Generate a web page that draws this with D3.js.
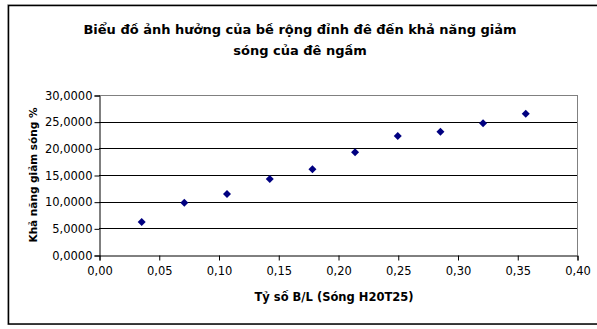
<!DOCTYPE html>
<html><head><meta charset="utf-8">
<script src="https://cdn.jsdelivr.net/npm/d3@7"></script>
<style>body{margin:0;background:#fff}svg{display:block}text{font-family:"DejaVu Sans",sans-serif}</style>
</head><body>
<svg id="c" width="597" height="329"></svg>
<script>
const xValues = [0.0357, 0.0714, 0.1071, 0.1429, 0.1786, 0.2143, 0.25, 0.2857, 0.3214, 0.3571];
const yValues = [6.19, 9.81, 11.44, 14.25, 16.06, 19.25, 22.3, 23.1, 24.7, 26.5];
const xTicks = [0, 0.05, 0.10, 0.15, 0.20, 0.25, 0.30, 0.35, 0.40];
const yTicks = [0, 5, 10, 15, 20, 25, 30];
const titleLines = ["Biểu đồ ảnh hưởng của bề rộng đỉnh đê đến khả năng giảm", "sóng của đê ngầm"];
const xTitle = "Tỷ số B/L (Sóng H20T25)";
const yTitle = "Khả năng giảm sóng %";
const FONT = "'DejaVu Sans',sans-serif";

const svg = d3.select("#c");
// outer frame
svg.append("rect").attr("x",7.5).attr("y",4.5).attr("width",600).attr("height",320).attr("fill","none").attr("stroke","#ccc");
svg.append("rect").attr("x",8.5).attr("y",5.5).attr("width",600).attr("height",318.5).attr("fill","#fff").attr("stroke","#000").attr("stroke-width",1.5);

const L=99, R=577, T=95, B=255;
const x=d3.scaleLinear().domain([0,0.4]).range([L,R]);
const y=d3.scaleLinear().domain([0,30]).range([B,T]);
const fmt = d=>d3.format(".4f")(d).replace(".",",");
const fmtx = d=>d3.format(".2f")(d).replace(".",",");

// gridlines
svg.append("g").selectAll("line").data(yTicks.filter(d=>d>0)).join("line")
  .attr("x1",L).attr("x2",R).attr("y1",d=>Math.round(y(d))+0.5).attr("y2",d=>Math.round(y(d))+0.5)
  .attr("stroke",d=>d===30?"#808080":"#000").attr("stroke-width",1);
// right border
svg.append("line").attr("x1",R+0.5).attr("x2",R+0.5).attr("y1",T).attr("y2",B).attr("stroke","#808080");

const ya = svg.append("g").attr("transform",`translate(${L+0.5},0.5)`).call(d3.axisLeft(y).tickValues(yTicks).tickFormat(fmt).tickSize(5).tickPadding(2));
const xa = svg.append("g").attr("transform",`translate(0.5,${B+0.5})`).call(d3.axisBottom(x).tickValues(xTicks).tickFormat(fmtx).tickSize(5).tickPadding(6));
[ya,xa].forEach(a=>{a.select(".domain").attr("stroke","#000");a.selectAll(".tick line").attr("stroke","#000");a.selectAll("text").attr("font-size",11.5).attr("fill","#000").style("font-family",FONT);});

// points (diamonds)
svg.append("g").selectAll("path").data(xValues.map((v,i)=>[v,yValues[i]])).join("path")
  .attr("transform",d=>`translate(${x(d[0])},${y(d[1])})`)
  .attr("d","M0,-4L4,0L0,4L-4,0Z").attr("fill","#000080");

// titles
svg.append("g").selectAll("text").data(titleLines).join("text")
  .attr("x",300).attr("y",(d,i)=>34+i*21).attr("text-anchor","middle").attr("font-weight","bold").attr("font-size",13).text(d=>d);
svg.append("text").attr("x",334).attr("y",301).attr("text-anchor","middle").attr("font-weight","bold").attr("font-size",11.5).text(xTitle);
svg.append("text").attr("transform","translate(37,175) rotate(-90)").attr("text-anchor","middle").attr("font-weight","bold").attr("font-size",10.5).text(yTitle);
</script>
</body></html>
